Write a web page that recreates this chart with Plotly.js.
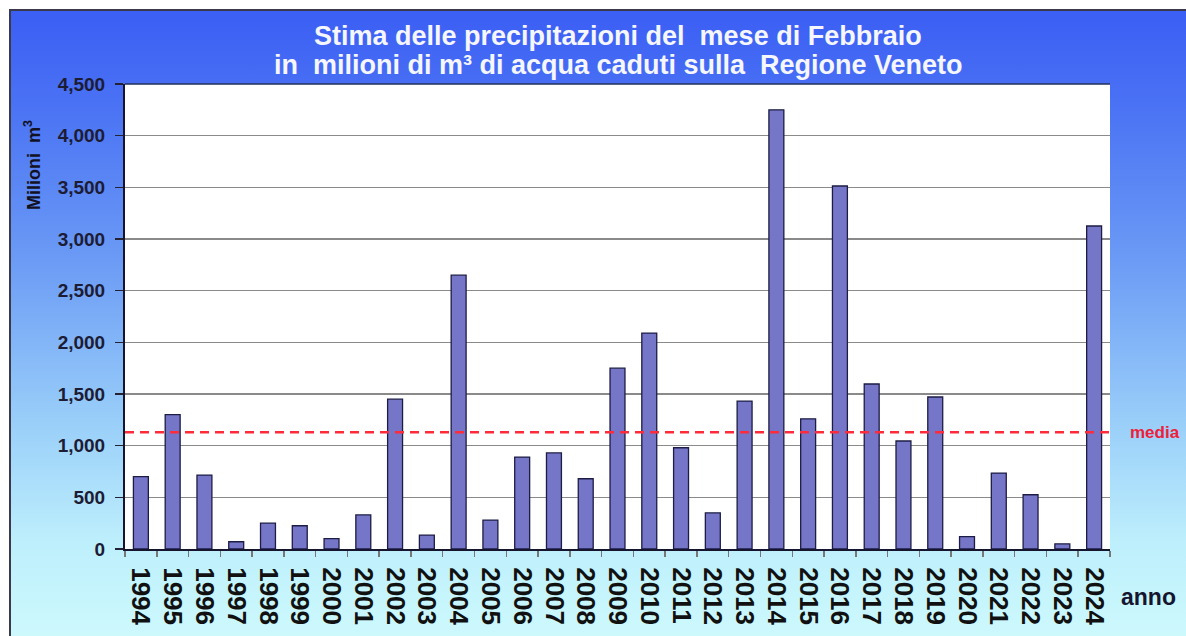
<!DOCTYPE html>
<html>
<head>
<meta charset="utf-8">
<script src="https://cdn.plot.ly/plotly-3.0.1.min.js"></script>
<style>
  html, body { margin:0; padding:0; width:1186px; height:636px; overflow:hidden; background:#ffffff; }
  #bg { position:absolute; left:9px; top:9px; width:1177px; height:627px;
        border-top:2px solid #3a3a4a; border-left:2px solid #3a3a4a; box-sizing:border-box;
        background:linear-gradient(to bottom, #3b5ef4 0%, #4a72f4 15%, #6b9bf5 40%, #98cdf9 65%, #bdeffc 85%, #cdf9fd 100%); }
  #chart { position:absolute; left:0; top:0; width:1186px; height:636px; }
</style>
</head>
<body>
<div id="bg"></div>
<div id="chart"></div>
<script>
const years = ["1994","1995","1996","1997","1998","1999","2000","2001","2002","2003","2004","2005","2006","2007","2008","2009","2010","2011","2012","2013","2014","2015","2016","2017","2018","2019","2020","2021","2022","2023","2024"];
const precipitazioni = [700,1300,715,70,250,225,100,330,1450,135,2650,280,890,930,680,1750,2090,980,350,1432,4250,1260,3513,1597,1045,1471,120,735,525,50,3126];
const mediaValue = 1130;
const yTickVals = [0,500,1000,1500,2000,2500,3000,3500,4000,4500];
const yTickText = ["0","500","1,000","1,500","2,000","2,500","3,000","3,500","4,000","4,500"];
const titleLines = ["Stima delle precipitazioni del  mese di Febbraio", "in  milioni di m³ di acqua caduti sulla  Regione Veneto"];

const trace = {
  type: 'bar',
  x: years,
  y: precipitazioni,
  marker: { color: '#7676c8', line: { color: '#1c1c44', width: 1.3 } },
  hoverinfo: 'x+y'
};

const titleFont = { size: 27, color: '#f6f6ff', family: 'Liberation Sans, Arial, sans-serif', weight: 'bold' };

const layout = {
  width: 1186, height: 636,
  margin: { l: 125, r: 76, t: 84, b: 87 },
  paper_bgcolor: 'rgba(0,0,0,0)',
  plot_bgcolor: '#ffffff',
  showlegend: false,
  bargap: 0.53,
  font: { family: 'Liberation Sans, Arial, sans-serif' },
  xaxis: {
    type: 'category',
    tickangle: 90,
    tickfont: { size: 26, color: '#111111', weight: 'bold' },
    ticks: 'outside', tickson: 'boundaries', ticklen: 6, tickcolor: '#777777', tickwidth: 1.5,
    ticklabelstandoff: 11,
    showline: true, linecolor: '#151530', linewidth: 2,
    showgrid: false,
    range: [-0.5, years.length - 0.5]
  },
  yaxis: {
    range: [0, 4500],
    tickvals: yTickVals, ticktext: yTickText,
    tickfont: { size: 19, color: '#1c1c34', weight: 'bold' },
    ticks: 'outside', ticklen: 8, tickcolor: '#222233', tickwidth: 1.5,
    ticklabelstandoff: 6,
    showline: true, linecolor: '#151530', linewidth: 2,
    showgrid: true, gridcolor: '#8a8a8a', gridwidth: 1.5,
    zeroline: false
  },
  shapes: [
    { type: 'line', xref: 'paper', yref: 'y', x0: 0, x1: 1, y0: mediaValue, y1: mediaValue,
      line: { color: '#ff2a3a', width: 2.5, dash: '9px,6px' } },
    { type: 'line', xref: 'paper', yref: 'paper', x0: 0, x1: 1, y0: 1, y1: 1,
      line: { color: '#20305a', width: 1.5 } }
  ],
  annotations: [
    { text: titleLines[0], xref: 'paper', yref: 'paper', x: (618-125)/985, y: (549-36)/465, xanchor: 'center', yanchor: 'middle',
      showarrow: false, font: titleFont },
    { text: titleLines[1], xref: 'paper', yref: 'paper', x: (618-125)/985, y: (549-65)/465, xanchor: 'center', yanchor: 'middle',
      showarrow: false, font: titleFont },
    { text: 'media', xref: 'paper', yref: 'y', x: (1128-125)/985, y: mediaValue, xanchor: 'left', yanchor: 'middle',
      showarrow: false, font: { size: 17, color: '#ee2038', weight: 'bold' } },
    { text: 'anno', xref: 'paper', yref: 'paper', x: (1119-125)/985, y: (549-597)/465, xanchor: 'left', yanchor: 'middle',
      showarrow: false, font: { size: 23, color: '#151530', weight: 'bold' } },
    { text: 'Milioni  m<sup>3</sup>', xref: 'paper', yref: 'paper', x: (32-125)/985, y: (549-165)/465, xanchor: 'center', yanchor: 'middle',
      textangle: -90, showarrow: false, font: { size: 18, color: '#111122', weight: 'bold' } }
  ]
};

Plotly.newPlot('chart', [trace], layout, { displayModeBar: false, staticPlot: true });
</script>
</body>
</html>
